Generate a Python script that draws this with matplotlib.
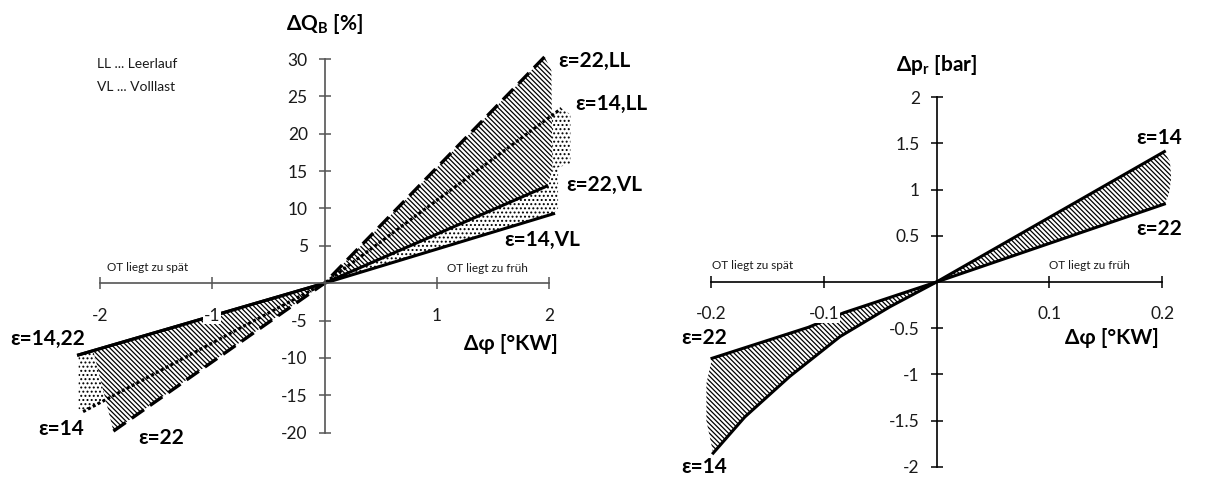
import numpy as np
import matplotlib
matplotlib.use('Agg')
import matplotlib.pyplot as plt

plt.rcParams['font.family'] = ['Lato', 'DejaVu Sans']
plt.rcParams['mathtext.fontset'] = 'custom'
plt.rcParams['mathtext.rm'] = 'Lato:bold'
plt.rcParams['hatch.linewidth'] = 0.9

# left panel: dQ_B [%] over dphi [deg KW]
x_22LL = [-1.88, 0, 1.96]
y_22LL = [-19.8, 0, 30.3]
x_14LL = [-2.15, 0, 2.11]
y_14LL = [-17.2, 0, 23.4]
x_22VL = [-2.19, 0, 1.98]
y_22VL = [-9.6, 0, 13.0]
x_14VL = [-2.19, 0, 2.04]
y_14VL = [-9.6, 0, 9.3]
# outlines of the shaded bands (eps=22 hatched, eps=14 dotted)
band22_x = [0, 1.96, 2.02, 2.03, 1.98, 0, -2.06, -1.88, 0]
band22_y = [0, 30.3, 28.5, 15.0, 13.0, 0, -9.0, -19.8, 0]
band14_x = [0, 2.11, 2.19, 2.19, 2.08, 2.08, 2.04, 0, -2.19, -2.19, -2.15, 0]
band14_y = [0, 23.4, 22.6, 16.0, 15.5, 10.0, 9.3, 0, -9.6, -16.8, -17.2, 0]
xt_left = [-2, -1, 1, 2]
yt_left = [-20, -15, -10, -5, 5, 10, 15, 20, 25, 30]

# right panel: dp_r [bar] over dphi
x_14 = [-0.198, -0.170, -0.130, -0.0855, -0.0412, 0, 0.202]
y_14 = [-1.85, -1.46, -1.02, -0.59, -0.267, 0, 1.41]
x_22 = [-0.199, -0.1136, -0.082, 0, 0.202]
y_22 = [-0.825, -0.49, -0.332, 0, 0.843]
edge_r_x = [0.207, 0.208, 0.206]
edge_r_y = [1.3, 1.12, 0.95]
edge_l_x = [-0.204, -0.204]
edge_l_y = [-1.1, -1.5]
xt_right = [-0.2, -0.1, 0.1, 0.2]
yt_right = [-2, -1.5, -1, -0.5, 0.5, 1, 1.5, 2]

HATCH = '\\' * 7


def setup_axes(ax, xt, yt, xb, yb, col):
	ax.set_axisbelow(False)
	for s in ['top', 'right']:
		ax.spines[s].set_visible(False)
	ax.spines['left'].set_position(('data', 0))
	ax.spines['bottom'].set_position(('data', 0))
	ax.spines['left'].set_bounds(yb[0], yb[1])
	ax.spines['bottom'].set_bounds(xb[0], xb[1])
	for s in ['left', 'bottom']:
		ax.spines[s].set_color(col)
		ax.spines[s].set_linewidth(1.2)
	ax.set_xticks(xt)
	ax.set_xticklabels(['%g' % v for v in xt])
	ax.set_yticks(yt)
	ax.set_yticklabels(['%g' % v for v in yt])
	ax.tick_params(axis='both', direction='inout', length=9, width=1.1, color=col,
		labelsize=12.5, labelcolor='#1a1a1a')
	ax.tick_params(axis='x', pad=13)
	ax.tick_params(axis='y', pad=7.5)
	for lab in ax.get_xticklabels() + ax.get_yticklabels():
		lab.set_bbox(dict(facecolor='white', edgecolor='none', pad=0.5))
	ax.patch.set_visible(False)


fig = plt.figure(figsize=(12.06, 4.79), dpi=100)

ax1 = fig.add_axes([0, 0, 680 / 1206, 1])
ax1.set_xlim(-2.890, 3.166)
ax1.set_ylim(-26.21, 37.91)
setup_axes(ax1, xt_left, yt_left, (-2, 2), (-20, 30), '#555555')

ax1.fill(band14_x, band14_y, facecolor='white', edgecolor='black', linewidth=0,
	hatch='....', zorder=1)
ax1.fill(band22_x, band22_y, facecolor='white', edgecolor='black', linewidth=0,
	hatch=HATCH, zorder=1.2)
ax1.plot(x_22LL, y_22LL, color='black', lw=2.4, ls=(0, (4.5, 2.2)), zorder=2)
ax1.plot(x_14LL, y_14LL, color='black', lw=2.2, ls=(0, (1.0, 0.8)), zorder=2)
ax1.plot(x_22VL, y_22VL, color='black', lw=2.2, zorder=2)
ax1.plot(x_14VL, y_14VL, color='black', lw=2.2, zorder=2)

bold = dict(fontsize=15, fontweight='bold', va='center', ha='left')
ax1.text(2.08, 29.7, 'ε=22,LL', **bold)
ax1.text(2.23, 24.0, 'ε=14,LL', **bold)
ax1.text(2.15, 13.2, 'ε=22,VL', **bold)
ax1.text(1.60, 5.8, 'ε=14,VL', **bold)
ax1.text(-2.80, -7.4, 'ε=14,22', **bold)
ax1.text(-2.55, -19.5, 'ε=14', **bold)
ax1.text(-1.66, -20.7, 'ε=22', **bold)
ax1.text(0, 34.7, r'ΔQ$_\mathrm{B}$ [%]', fontsize=15, fontweight='bold', ha='center', va='center')
ax1.text(1.24, -8.1, 'Δφ [°KW]', fontsize=15, fontweight='bold', ha='left', va='center')
ax1.text(-2.03, 29.4, 'LL ... Leerlauf', fontsize=10, ha='left', va='center', color='#1a1a1a')
ax1.text(-2.03, 26.3, 'VL ... Volllast', fontsize=10, ha='left', va='center', color='#1a1a1a')
ax1.text(-1.94, 2.1, 'OT liegt zu spät', fontsize=8.5, ha='left', va='center', color='#1a1a1a')
ax1.text(1.09, 2.0, 'OT liegt zu früh', fontsize=8.5, ha='left', va='center', color='#1a1a1a')

ax2 = fig.add_axes([680 / 1206, 0, 526 / 1206, 1])
ax2.set_xlim(-0.2274, 0.2389)
ax2.set_ylim(-2.130, 3.049)
setup_axes(ax2, xt_right, yt_right, (-0.2, 0.2), (-2, 2), 'black')

band_x = x_14 + edge_r_x + x_22[::-1] + edge_l_x
band_y = y_14 + edge_r_y + y_22[::-1] + edge_l_y
ax2.fill(band_x, band_y, facecolor='white', edgecolor='black', linewidth=0,
	hatch=HATCH, zorder=1)
ax2.plot(x_14, y_14, color='black', lw=2.2, zorder=2)
ax2.plot(x_22, y_22, color='black', lw=2.2, zorder=2)

ax2.text(0.177, 1.56, 'ε=14', **bold)
ax2.text(0.177, 0.57, 'ε=22', **bold)
ax2.text(-0.226, -0.61, 'ε=22', **bold)
ax2.text(-0.226, -2.0, 'ε=14', **bold)
ax2.text(0, 2.35, r'Δp$_\mathrm{r}$ [bar]', fontsize=15, fontweight='bold', ha='center', va='center')
ax2.text(0.114, -0.61, 'Δφ [°KW]', fontsize=15, fontweight='bold', ha='left', va='center')
ax2.text(-0.199, 0.18, 'OT liegt zu spät', fontsize=8.5, ha='left', va='center', color='#1a1a1a')
ax2.text(0.100, 0.18, 'OT liegt zu früh', fontsize=8.5, ha='left', va='center', color='#1a1a1a')

fig.savefig('out.png', dpi=100)
